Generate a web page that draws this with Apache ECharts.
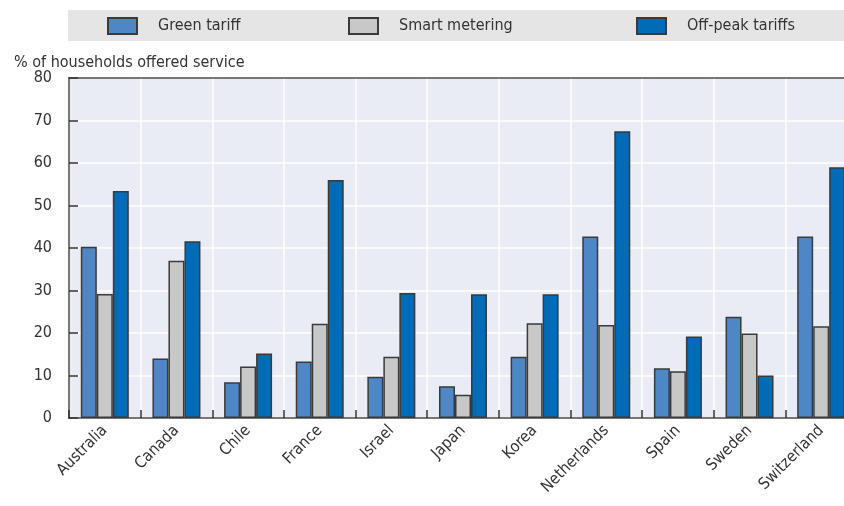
<!DOCTYPE html>
<html>
<head>
<meta charset="utf-8">
<script src="https://cdn.jsdelivr.net/npm/echarts@6/dist/echarts.min.js"></script>
<style>
  html, body { margin: 0; padding: 0; background: #fff; overflow: hidden; }
  /* the plot runs past the right edge of the original picture */
  #chart { width: 860px; height: 506px; }
</style>
</head>
<body>
<div id="chart"></div>
<script>
const countries = ['Australia', 'Canada', 'Chile', 'France', 'Israel', 'Japan', 'Korea', 'Netherlands', 'Spain', 'Sweden', 'Switzerland']
const greenTariff = [40.3, 14.0, 8.4, 13.3, 9.7, 7.5, 14.4, 42.7, 11.7, 23.8, 42.7]
const smartMetering = [29.2, 37.0, 12.1, 22.2, 14.4, 5.5, 22.3, 21.9, 11.0, 19.9, 21.6]
const offPeakTariffs = [53.4, 41.6, 15.2, 56.0, 29.4, 29.1, 29.1, 67.5, 19.2, 10.0, 59.0]
const seriesNames = ['Green tariff', 'Smart metering', 'Off-peak tariffs']
const yTicks = [0, 10, 20, 30, 40, 50, 60, 70, 80]

const font = "'DejaVu Sans Condensed', 'Liberation Sans', sans-serif"

const chart = echarts.init(document.getElementById('chart'))

const barStyle = (color) => ({
  color: color,
  borderColor: '#3a3a3a',
  borderWidth: 1.5
})

// one legend per item so each sits where the original puts it
const legendAt = (name, left) => ({
  left: left,
  top: 17,
  padding: 0,
  icon: 'rect',
  itemWidth: 29,
  itemHeight: 16,
  textStyle: { fontFamily: font, fontSize: 16, color: '#333', padding: [0, 0, 0, 16] },
  data: [name]
})

chart.setOption({
  animation: false,
  textStyle: { fontFamily: font },
  title: {
    text: '% of households offered service',
    left: 9,
    top: 50,
    textStyle: { fontFamily: font, fontSize: 16, fontWeight: 'normal', color: '#333' }
  },
  graphic: [
    {
      type: 'rect',
      left: 68,
      top: 10,
      shape: { width: 800, height: 31 },
      style: { fill: '#e5e5e5' },
      z: -1
    }
  ],
  legend: [
    legendAt(seriesNames[0], 107),
    legendAt(seriesNames[1], 348),
    legendAt(seriesNames[2], 636)
  ],
  grid: {
    left: 69,
    top: 78,
    right: 3,
    bottom: 88,
    show: true,
    backgroundColor: '#e9ecf5',
    borderColor: '#555',
    borderWidth: 1.5
  },
  xAxis: [
    {
      type: 'category',
      data: countries,
      axisLine: { lineStyle: { color: '#555', width: 1.5 } },
      axisTick: { show: true, inside: true, length: 8, lineStyle: { color: '#333', width: 1.5 } },
      axisLabel: { rotate: 45, fontSize: 16, color: '#333', margin: 10 },
      splitLine: { show: true, lineStyle: { color: '#fff', width: 1.5 } }
    },
    {
      // dark top frame line, drawn over the white gridline at 80
      type: 'category',
      position: 'top',
      data: countries,
      axisLine: { show: true, lineStyle: { color: '#555', width: 1.5 } },
      axisTick: { show: false },
      axisLabel: { show: false },
      splitLine: { show: false }
    }
  ],
  yAxis: {
    type: 'value',
    min: yTicks[0],
    max: yTicks[yTicks.length - 1],
    interval: 10,
    axisLine: { show: true, lineStyle: { color: '#555', width: 1.5 } },
    axisTick: { show: true, inside: true, length: 9, lineStyle: { color: '#333', width: 1.5 } },
    axisLabel: { fontSize: 16, color: '#333', margin: 17 },
    splitLine: { show: true, lineStyle: { color: '#fff', width: 1.5 } }
  },
  series: [
    {
      name: seriesNames[0],
      type: 'bar',
      data: greenTariff,
      barGap: '0%',
      barCategoryGap: '33%',
      itemStyle: barStyle('#4f86c6')
    },
    {
      name: seriesNames[1],
      type: 'bar',
      data: smartMetering,
      itemStyle: barStyle('#c8c8c8')
    },
    {
      name: seriesNames[2],
      type: 'bar',
      data: offPeakTariffs,
      itemStyle: barStyle('#006bb6')
    }
  ]
})
</script>
</body>
</html>
